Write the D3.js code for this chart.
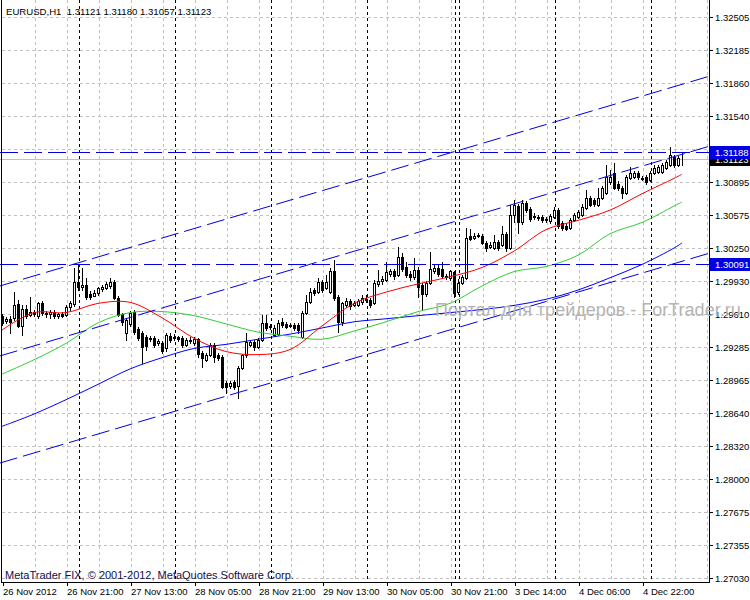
<!DOCTYPE html>
<html><head><meta charset="utf-8">
<script src="https://cdn.jsdelivr.net/npm/d3@7"></script>
<style>html,body{margin:0;padding:0;background:#fff;}svg{display:block;}</style>
</head><body><svg id="c" width="750" height="600"></svg>
<script>
// ---------------- DATA ----------------
const symbolTitle = "EURUSD,H1";
const lastBar = [1.31121, 1.31180, 1.31057, 1.31123];
const opens = [1.2959,1.2954,1.2956,1.2957,1.2970,1.2949,1.2966,1.2960,1.2963,1.2959,
1.2971,1.2962,1.2961,1.2963,1.2959,1.2961,1.2960,1.2967,1.2970,1.2992,
1.2987,1.2989,1.2980,1.2978,1.2981,1.2985,1.2986,1.2988,1.2992,1.2976,
1.2961,1.2942,1.2951,1.2963,1.2946,1.2942,1.2938,1.2936,1.2937,1.2932,
1.2932,1.2927,1.2939,1.2937,1.2938,1.2937,1.2930,1.2934,1.2932,1.2936,
1.2923,1.2916,1.2921,1.2930,1.2921,1.2919,1.2893,1.2890,1.2894,1.2890,
1.2908,1.2921,1.2930,1.2933,1.2928,1.2935,1.2952,1.2948,1.2940,1.2941,
1.2953,1.2951,1.2949,1.2950,1.2950,1.2938,1.2962,1.2972,1.2984,1.2982,
1.2992,1.2986,1.2982,1.3003,1.2977,1.2953,1.2969,1.2973,1.2969,1.2969,
1.2972,1.2975,1.2974,1.2971,1.2990,1.2993,1.2994,1.3000,1.3003,1.2999,
1.3016,1.3007,1.3000,1.2997,1.3004,1.2989,1.2980,1.2991,1.3003,1.3006,
1.3005,1.2997,1.2996,1.3002,1.2982,1.2991,1.2996,1.3037,1.3035,1.3037,
1.3037,1.3030,1.3026,1.3025,1.3031,1.3028,1.3039,1.3025,1.3057,1.3066,
1.3050,1.3069,1.3063,1.3055,1.3055,1.3055,1.3052,1.3051,1.3055,1.3062,
1.3049,1.3047,1.3045,1.3052,1.3055,1.3057,1.3064,1.3074,1.3072,1.3067,
1.3074,1.3079,1.3089,1.3098,1.3088,1.3084,1.3079,1.3093,1.3094,1.3098,
1.3093,1.3094,1.3091,1.3098,1.3099,1.3099,1.3103,1.3106,1.3114,1.3106,
1.31121];
const highs = [1.2961,1.2958,1.2959,1.2982,1.2974,1.2969,1.2969,1.2977,1.2965,1.2972,
1.2973,1.2964,1.2965,1.2965,1.2962,1.2963,1.2969,1.2973,1.3006,1.3008,
1.3006,1.2996,1.2983,1.2984,1.2987,1.2989,1.2992,1.2996,1.2994,1.2978,
1.2962,1.2957,1.2964,1.2965,1.2948,1.2944,1.2940,1.2939,1.2939,1.2936,
1.2934,1.2942,1.2942,1.2941,1.2939,1.2939,1.2937,1.2938,1.2938,1.2937,
1.2925,1.2923,1.2932,1.2932,1.2923,1.2921,1.2895,1.2895,1.2896,1.2910,
1.2922,1.2942,1.2935,1.2935,1.2937,1.2960,1.2960,1.2951,1.2950,1.2955,
1.2957,1.2953,1.2952,1.2952,1.2952,1.2964,1.2979,1.2986,1.2986,1.2996,
1.2994,1.2999,1.3006,1.3013,1.2979,1.2972,1.2976,1.2975,1.2973,1.2975,
1.2979,1.2979,1.2976,1.2994,1.3004,1.2998,1.3011,1.3005,1.3005,1.3026,
1.3020,1.3011,1.3003,1.3015,1.3007,1.2991,1.2993,1.3021,1.3009,1.3009,
1.3011,1.3000,1.3004,1.3003,1.2995,1.2999,1.3045,1.3044,1.3040,1.3040,
1.3039,1.3032,1.3031,1.3038,1.3033,1.3047,1.3041,1.3067,1.3072,1.3068,
1.3072,1.3071,1.3065,1.3059,1.3057,1.3057,1.3055,1.3058,1.3065,1.3064,
1.3051,1.3049,1.3054,1.3059,1.3062,1.3068,1.3082,1.3076,1.3074,1.3084,
1.3086,1.3106,1.3101,1.3108,1.3090,1.3086,1.3096,1.3104,1.3100,1.3100,
1.3095,1.3096,1.3100,1.3106,1.3106,1.3108,1.3111,1.3124,1.3116,1.3115,
1.31180];
const lows = [1.2950,1.2952,1.2942,1.2955,1.2948,1.2940,1.2957,1.2959,1.2959,1.2957,
1.2960,1.2958,1.2957,1.2957,1.2957,1.2958,1.2959,1.2965,1.2968,1.2984,
1.2984,1.2975,1.2975,1.2978,1.2979,1.2983,1.2985,1.2986,1.2975,1.2959,
1.2950,1.2935,1.2949,1.2941,1.2935,1.2913,1.2926,1.2934,1.2928,1.2930,
1.2923,1.2925,1.2933,1.2935,1.2934,1.2928,1.2929,1.2932,1.2930,1.2919,
1.2909,1.2915,1.2920,1.2914,1.2916,1.2888,1.2884,1.2888,1.2887,1.2879,
1.2907,1.2919,1.2929,1.2926,1.2927,1.2934,1.2945,1.2946,1.2939,1.2940,
1.2948,1.2947,1.2948,1.2945,1.2942,1.2937,1.2961,1.2971,1.2979,1.2981,
1.2982,1.2985,1.2981,1.2974,1.2943,1.2950,1.2967,1.2966,1.2968,1.2968,
1.2970,1.2972,1.2967,1.2970,1.2988,1.2990,1.2993,1.2998,1.2995,1.2998,
1.3003,1.2997,1.2994,1.2995,1.2977,1.2966,1.2978,1.2990,1.3001,1.2998,
1.2996,1.2995,1.2994,1.2977,1.2980,1.2990,1.2995,1.3033,1.3034,1.3036,
1.3029,1.3022,1.3025,1.3024,1.3023,1.3027,1.3022,1.3024,1.3050,1.3040,
1.3048,1.3060,1.3051,1.3053,1.3052,1.3050,1.3050,1.3049,1.3054,1.3045,
1.3043,1.3043,1.3044,1.3051,1.3054,1.3056,1.3063,1.3066,1.3066,1.3066,
1.3073,1.3078,1.3088,1.3083,1.3082,1.3074,1.3078,1.3092,1.3093,1.3092,
1.3091,1.3088,1.3090,1.3097,1.3098,1.3098,1.3102,1.3105,1.3104,1.3105,
1.31057];
const closes = [1.2952,1.2956,1.2953,1.2969,1.2949,1.2966,1.2959,1.2963,1.2961,1.2971,
1.2962,1.2961,1.2963,1.2959,1.2961,1.2959,1.2967,1.2971,1.2992,1.2987,
1.2989,1.2977,1.2977,1.2981,1.2986,1.2987,1.2990,1.2992,1.2976,1.2960,
1.2953,1.2955,1.2962,1.2943,1.2937,1.2928,1.2929,1.2937,1.2930,1.2934,
1.2925,1.2940,1.2935,1.2938,1.2936,1.2930,1.2935,1.2935,1.2936,1.2922,
1.2918,1.2921,1.2930,1.2919,1.2918,1.2889,1.2889,1.2893,1.2889,1.2908,
1.2921,1.2933,1.2933,1.2928,1.2935,1.2952,1.2947,1.2949,1.2947,1.2952,
1.2950,1.2948,1.2950,1.2947,1.2945,1.2962,1.2972,1.2982,1.2981,1.2992,
1.2984,1.2992,1.3003,1.2976,1.2953,1.2971,1.2973,1.2968,1.2971,1.2973,
1.2976,1.2974,1.2969,1.2991,1.2993,1.2995,1.3002,1.3003,1.2998,1.3016,
1.3005,1.2999,1.2997,1.3004,1.2987,1.2980,1.2991,1.3005,1.3006,1.3000,
1.2998,1.2998,1.3003,1.2981,1.2991,1.2997,1.3035,1.3034,1.3037,1.3038,
1.3030,1.3025,1.3028,1.3031,1.3025,1.3039,1.3025,1.3057,1.3067,1.3050,
1.3069,1.3062,1.3053,1.3056,1.3054,1.3052,1.3053,1.3056,1.3062,1.3047,
1.3045,1.3044,1.3052,1.3057,1.3060,1.3065,1.3074,1.3067,1.3068,1.3074,
1.3084,1.3094,1.3094,1.3084,1.3084,1.3079,1.3094,1.3098,1.3098,1.3094,
1.3092,1.3089,1.3098,1.3103,1.3104,1.3106,1.3109,1.3116,1.3106,1.3113,
1.31123];

const timeTickIdx = [0, 16, 32, 48, 64, 80, 96, 112, 128, 144, 160];
const timeTickLabels = ["26 Nov 2012","26 Nov 21:00","27 Nov 13:00","28 Nov 05:00","28 Nov 21:00",
  "29 Nov 13:00","30 Nov 05:00","30 Nov 21:00","3 Dec 14:00","4 Dec 06:00","4 Dec 22:00"];
const daySeparatorIdx = [19, 43, 67, 91, 113, 114, 138, 162];
const priceTicks = [1.32505,1.32185,1.31860,1.31540,1.31215,1.30895,1.30575,1.30250,1.29930,
  1.29610,1.29285,1.28965,1.28640,1.28320,1.28000,1.27675,1.27355,1.27030];

const maIdx   = [0,8,16,24,32,40,48,56,64,72,80,88,96,104,112,120,128,136,144,152,160,168,170];
const maRed   = [1.2945,1.2962,1.2962,1.2971,1.2972,1.2957,1.2937,1.2924,1.2921,1.2926,1.2949,1.2971,
  1.2982,1.2990,1.2997,1.3006,1.3022,1.3043,1.3052,1.3062,1.3078,1.3093,1.3097];
const maGreen = [1.2902,1.2916,1.2932,1.2952,1.2962,1.2963,1.2959,1.2951,1.2943,1.2939,1.2936,1.2944,
  1.2953,1.2963,1.2971,1.2988,1.3002,1.3007,1.3018,1.3039,1.3050,1.3066,1.3070];
const maBlue  = [1.2851,1.2863,1.2877,1.2892,1.2907,1.2918,1.2927,1.2931,1.2936,1.2941,1.2947,1.2953,
  1.2956,1.2959,1.2962,1.2965,1.2969,1.2975,1.2984,1.2996,1.3009,1.3025,1.3030];

const hLinePrices = [1.31188, 1.30091];
const bidPrice = 1.31123;
const channelIdx = [0, 170];
const channelStart = [1.29886, 1.29203, 1.28158];
const channelEnd   = [1.31848, 1.31165, 1.30121];

const copyrightText = "MetaTrader FIX, \u00a9 2001-2012, MetaQuotes Software Corp.";
const watermarkText = "Портал для трейдеров - ForTrader.ru";

// ---------------- DRAWING ----------------
const svg = d3.select("#c");
const FONT = "'Liberation Sans', Arial, sans-serif";
const PR = 709, PB = 582; // plot right / bottom pixel
const x = d3.scaleLinear().domain([-0.5, 176.5]).range([0, 708]);
const y = d3.scaleLinear().domain([1.27030, 1.32505]).range([578, 17]);
const cy = v => Math.round(y(v));
const bars = d3.range(closes.length).map(i => ({i, o: opens[i], h: highs[i], l: lows[i], c: closes[i]}));

svg.append("rect").attr("width", 750).attr("height", 600).attr("fill", "#fff");
svg.append("defs").append("clipPath").attr("id", "plot")
  .append("rect").attr("x", 0).attr("y", 0).attr("width", PR).attr("height", PB);

// grid
const grid = svg.append("g").attr("shape-rendering", "crispEdges");
grid.selectAll("line.h").data(priceTicks).join("line").attr("class", "h")
  .attr("x1", 2).attr("x2", PR).attr("y1", d => cy(d) + 0.5).attr("y2", d => cy(d) + 0.5)
  .attr("stroke", "#c0c0c0").attr("stroke-dasharray", "3,3");
const vGridIdx = d3.range(8, 177, 8);
grid.selectAll("line.v").data(vGridIdx).join("line").attr("class", "v")
  .attr("x1", d => x(d) + 1.5).attr("x2", d => x(d) + 1.5).attr("y1", 0).attr("y2", PB)
  .attr("stroke", "#c0c0c0").attr("stroke-dasharray", "3,3");
// day separators
grid.selectAll("line.s").data(daySeparatorIdx).join("line").attr("class", "s")
  .attr("x1", d => x(d) + 1.5).attr("x2", d => x(d) + 1.5).attr("y1", 0).attr("y2", PB)
  .attr("stroke", "#000").attr("stroke-dasharray", "3,3");

// bid line
svg.append("line").attr("x1", 0).attr("x2", PR).attr("y1", cy(bidPrice) + 0.5).attr("y2", cy(bidPrice) + 0.5)
  .attr("stroke", "#c0c0c0").attr("shape-rendering", "crispEdges");

// candles
const cg = svg.append("g").attr("shape-rendering", "crispEdges").attr("clip-path", "url(#plot)");
cg.selectAll("line.w").data(bars).join("line").attr("class", "w")
  .attr("x1", d => x(d.i) + 0.5).attr("x2", d => x(d.i) + 0.5)
  .attr("y1", d => cy(d.h)).attr("y2", d => cy(d.l) + 1).attr("stroke", "#000");
cg.selectAll("rect.b").data(bars).join("rect").attr("class", "b")
  .each(function(d) {
    const top = cy(Math.max(d.o, d.c)), bot = cy(Math.min(d.o, d.c));
    const s = d3.select(this);
    if (d.c >= d.o) {
      s.attr("x", x(d.i) - 0.5).attr("y", top + 0.5).attr("width", 2).attr("height", Math.max(0, bot - top))
        .attr("fill", "#fff").attr("stroke", "#000");
    } else {
      s.attr("x", x(d.i) - 1).attr("y", top).attr("width", 3).attr("height", Math.max(1, bot - top + 1))
        .attr("fill", "#000");
    }
  });

// moving averages
const maLine = d3.line().x((d, k) => x(maIdx[k])).y(d => y(d)).curve(d3.curveCatmullRom.alpha(0.5));
[[maBlue, "#0000ff"], [maGreen, "#32cd32"], [maRed, "#ff0000"]].forEach(([arr, col]) => {
  svg.append("path").attr("d", maLine(arr)).attr("fill", "none").attr("stroke", col).attr("stroke-width", 1)
    .attr("clip-path", "url(#plot)");
});

// channel lines (rays across the plot)
const objG = svg.append("g").attr("clip-path", "url(#plot)");
channelStart.forEach((p0, k) => {
  const p1 = channelEnd[k];
  const slope = (p1 - p0) / (channelIdx[1] - channelIdx[0]);
  const iA = -0.5, iB = 176.5;
  objG.append("line")
    .attr("x1", x(iA)).attr("y1", y(p0 + slope * (iA - channelIdx[0])))
    .attr("x2", x(iB)).attr("y2", y(p0 + slope * (iB - channelIdx[0])))
    .attr("stroke", "#0000e0").attr("stroke-width", 1).attr("stroke-dasharray", "18,6");
});
objG.selectAll("line.hl").data(hLinePrices).join("line").attr("class", "hl")
  .attr("x1", 0).attr("x2", PR).attr("y1", d => cy(d) + 0.5).attr("y2", d => cy(d) + 0.5)
  .attr("stroke", "#0000e0").attr("stroke-dasharray", "18,6").attr("shape-rendering", "crispEdges");

// frame / axes
const ax = svg.append("g").attr("shape-rendering", "crispEdges");
ax.append("line").attr("x1", 1.5).attr("x2", 1.5).attr("y1", 0).attr("y2", PB).attr("stroke", "#000");
ax.append("line").attr("x1", PR + 0.5).attr("x2", PR + 0.5).attr("y1", 0).attr("y2", PB + 1).attr("stroke", "#000");
ax.append("line").attr("x1", 1).attr("x2", PR + 1).attr("y1", PB + 0.5).attr("y2", PB + 0.5).attr("stroke", "#000");

// price axis
ax.selectAll("line.pt").data(priceTicks).join("line").attr("class", "pt")
  .attr("x1", PR).attr("x2", PR + 4).attr("y1", d => cy(d) + 0.5).attr("y2", d => cy(d) + 0.5).attr("stroke", "#000");
svg.append("g").selectAll("text").data(priceTicks).join("text")
  .attr("x", 715).attr("y", d => cy(d) + 4)
  .attr("font-family", FONT).attr("font-size", "9.5px").attr("fill", "#000")
  .text(d => d.toFixed(5));

// time axis
ax.selectAll("line.tt").data(timeTickIdx).join("line").attr("class", "tt")
  .attr("x1", d => x(d) + 1.5).attr("x2", d => x(d) + 1.5).attr("y1", PB).attr("y2", PB + 4).attr("stroke", "#000");
svg.append("g").selectAll("text").data(timeTickIdx).join("text")
  .attr("x", d => x(d) + 1).attr("y", 595)
  .attr("font-family", FONT).attr("font-size", "9.5px").attr("fill", "#000")
  .text((d, k) => timeTickLabels[k]);

// price label boxes
function priceBox(p, bg) {
  const yy = cy(p);
  svg.append("rect").attr("x", 710).attr("y", yy - 6).attr("width", 40).attr("height", 13)
    .attr("fill", bg).attr("shape-rendering", "crispEdges");
  svg.append("text").attr("x", 715).attr("y", yy + 4).attr("font-family", FONT).attr("font-size", "9.5px")
    .attr("fill", "#fff").text(p.toFixed(5));
}
priceBox(bidPrice, "#000");
hLinePrices.forEach(p => priceBox(p, "#0000e0"));

// title + copyright
svg.append("text").attr("x", 6).attr("y", 15).attr("font-family", FONT).attr("font-size", "9.6px").attr("fill", "#000")
  .attr("xml:space", "preserve")
  .text(symbolTitle + "  " + lastBar.map(v => v.toFixed(5)).join(" "));
svg.append("text").attr("x", 5).attr("y", 579).attr("font-family", FONT).attr("font-size", "11px").attr("fill", "#101050")
  .text(copyrightText);

// watermark
svg.append("text").attr("x", 435).attr("y", 316).attr("font-family", FONT).attr("font-size", "18px")
  .attr("fill", "#b4b4b4").text(watermarkText);
</script></body></html>
